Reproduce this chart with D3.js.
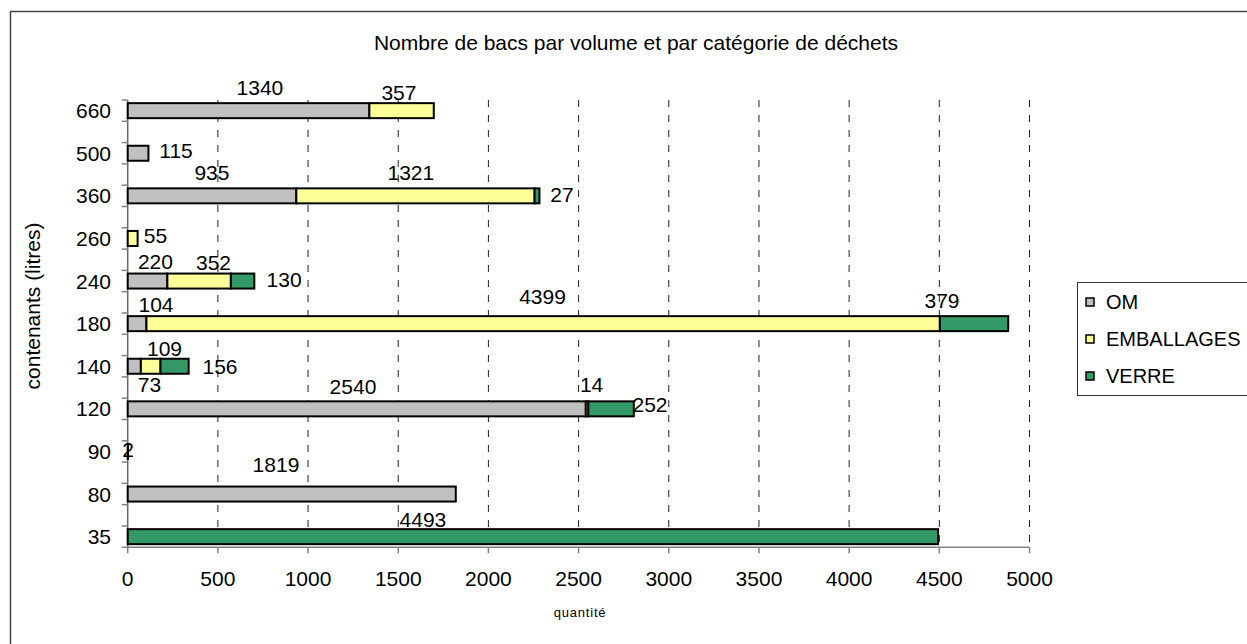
<!DOCTYPE html>
<html>
<head>
<meta charset="utf-8">
<script src="https://cdn.jsdelivr.net/npm/d3@7"></script>
<style>
  body { margin: 0; background: #fff; }
  text { font-family: "Liberation Sans", Arial, sans-serif; fill: #000; }
</style>
</head>
<body>
<div id="chart"></div>
<script>
// data (bottom row first)
const categories = ["35", "80", "90", "120", "140", "180", "240", "260", "360", "500", "660"];
const series = ["OM", "EMBALLAGES", "VERRE"];
const om = [0, 1819, 2, 2540, 73, 104, 220, 0, 935, 115, 1340];
const emballages = [0, 0, 0, 14, 109, 4399, 352, 55, 1321, 0, 357];
const verre = [4493, 0, 0, 252, 156, 379, 130, 0, 27, 0, 0];
const xTicks = [0, 500, 1000, 1500, 2000, 2500, 3000, 3500, 4000, 4500, 5000];

// where the (hand-dragged) data labels sit: anchor in data units + vertical shift in px
const labelAnchor = {
  OM: [null, 822, 2, 1249, 121, 157, 154, null, 467, 268, 733],
  EMBALLAGES: [null, null, null, 2572, 204, 2300, 476, 154, 1570, null, 1504],
  VERRE: [1637, null, null, 2896, 512, 4515, 867, null, 2408, null, null]
};
const labelShift = {
  OM: [0, -30, -2, -22, 18.6, -19, -20, 0, -23, -2.5, -23.4],
  EMBALLAGES: [0, 0, 0, -24.5, -17.4, -27.3, -18.7, -2.6, -23, 0, -18],
  VERRE: [-16.7, 0, 0, -4, 0, -22.8, -1.7, 0, -1, 0, 0]
};

const colors = { OM: "#c0c0c0", EMBALLAGES: "#ffff99", VERRE: "#339966" };

const width = 1247, height = 644;
const plotTop = 100, plotBottom = 547.3;
const x0 = 127.7, x1 = 1029.5;

const rows = categories.map((c, i) => ({
  cat: c, OM: om[i], EMBALLAGES: emballages[i], VERRE: verre[i], idx: i
}));

const svg = d3.select("#chart")
  .append("svg")
  .attr("width", width)
  .attr("height", height);

// outer chart border
svg.append("rect")
  .attr("x", 10.5).attr("y", 11.5)
  .attr("width", width + 20).attr("height", height + 20)
  .attr("fill", "none").attr("stroke", "#444").attr("stroke-width", 1.5);

const x = d3.scaleLinear().domain([0, 5000]).range([x0, x1]);

// 11 rows, ticks a quarter step either side of each row
const step = (plotBottom - plotTop) / (categories.length - 0.5);
const y = d3.scalePoint()
  .domain(categories)
  .range([plotBottom - step / 4, plotTop + step / 4]);

const barH = 15;

// dashed vertical gridlines
svg.append("g")
  .selectAll("line")
  .data(xTicks.slice(1))
  .enter()
  .append("line")
  .attr("x1", (d) => x(d)).attr("x2", (d) => x(d))
  .attr("y1", plotTop).attr("y2", plotBottom)
  .attr("stroke", "#222")
  .attr("stroke-width", 1)
  .attr("stroke-dasharray", "7,8");

// x axis
const xAxis = svg.append("g").attr("transform", `translate(0,${plotBottom})`);
xAxis.append("line")
  .attr("x1", x0).attr("x2", x1)
  .attr("stroke", "#808080").attr("stroke-width", 1.5);
xAxis.selectAll("line.tick")
  .data(xTicks)
  .enter()
  .append("line")
  .attr("class", "tick")
  .attr("x1", (d) => x(d)).attr("x2", (d) => x(d))
  .attr("y1", 0).attr("y2", 6)
  .attr("stroke", "#808080").attr("stroke-width", 1.5);
xAxis.selectAll("text")
  .data(xTicks)
  .enter()
  .append("text")
  .attr("x", (d) => x(d))
  .attr("y", 31)
  .attr("text-anchor", "middle")
  .attr("dominant-baseline", "central")
  .attr("font-size", 21)
  .text((d) => d);

// y axis
const yAxis = svg.append("g");
yAxis.append("line")
  .attr("x1", x0).attr("x2", x0)
  .attr("y1", plotTop).attr("y2", plotBottom)
  .attr("stroke", "#666").attr("stroke-width", 1.5);
const yTickPos = [];
categories.forEach((c) => {
  yTickPos.push(y(c) - step / 4, y(c) + step / 4);
});
yAxis.selectAll("line.tick")
  .data(yTickPos)
  .enter()
  .append("line")
  .attr("class", "tick")
  .attr("x1", x0 - 6).attr("x2", x0)
  .attr("y1", (d) => d).attr("y2", (d) => d)
  .attr("stroke", "#808080").attr("stroke-width", 1.5);
yAxis.selectAll("text")
  .data(categories)
  .enter()
  .append("text")
  .attr("x", 111)
  .attr("y", (d) => y(d))
  .attr("text-anchor", "end")
  .attr("dominant-baseline", "central")
  .attr("font-size", 21)
  .text((d) => d);

// stacked bars
const stacked = d3.stack().keys(series)(rows);

svg.append("g")
  .selectAll("g")
  .data(stacked)
  .enter()
  .append("g")
  .attr("fill", (d) => colors[d.key])
  .selectAll("rect")
  .data((d) => d.filter((p) => p[1] - p[0] > 0))
  .enter()
  .append("rect")
  .attr("x", (d) => x(d[0]))
  .attr("y", (d) => y(d.data.cat) - barH / 2)
  .attr("width", (d) => x(d[1]) - x(d[0]))
  .attr("height", barH)
  .attr("stroke", "#000")
  .attr("stroke-width", 2);

// data labels
const labels = [];
series.forEach((s) => {
  rows.forEach((r, i) => {
    if (r[s] > 0) {
      labels.push({ v: r[s], cat: r.cat, at: labelAnchor[s][i], dy: labelShift[s][i] });
    }
  });
});

svg.append("g")
  .selectAll("text")
  .data(labels)
  .enter()
  .append("text")
  .attr("x", (d) => x(d.at))
  .attr("y", (d) => y(d.cat) + d.dy)
  .attr("text-anchor", "middle")
  .attr("dominant-baseline", "central")
  .attr("font-size", 21)
  .text((d) => d.v);

// title
svg.append("text")
  .attr("x", 636)
  .attr("y", 50)
  .attr("text-anchor", "middle")
  .attr("font-size", 21)
  .text("Nombre de bacs par volume et par catégorie de déchets");

// axis titles
svg.append("text")
  .attr("transform", "translate(40,306) rotate(-90)")
  .attr("text-anchor", "middle")
  .attr("font-size", 21)
  .text("contenants (litres)");

svg.append("text")
  .attr("x", 580)
  .attr("y", 617)
  .attr("text-anchor", "middle")
  .attr("font-size", 13)
  .attr("letter-spacing", 0.8)
  .text("quantité");

// legend
const legend = svg.append("g");
legend.append("rect")
  .attr("x", 1077.5).attr("y", 282.5)
  .attr("width", 200).attr("height", 113)
  .attr("fill", "#fff").attr("stroke", "#333").attr("stroke-width", 1);

const item = legend.selectAll("g")
  .data(series)
  .enter()
  .append("g")
  .attr("transform", (d, i) => `translate(0,${302 + i * 37})`);
item.append("rect")
  .attr("x", 1086).attr("y", -4)
  .attr("width", 8).attr("height", 8)
  .attr("fill", (d) => colors[d])
  .attr("stroke", "#000").attr("stroke-width", 1.5);
item.append("text")
  .attr("x", 1106)
  .attr("y", 0)
  .attr("dominant-baseline", "central")
  .attr("font-size", 20)
  .text((d) => d);
</script>
</body>
</html>
